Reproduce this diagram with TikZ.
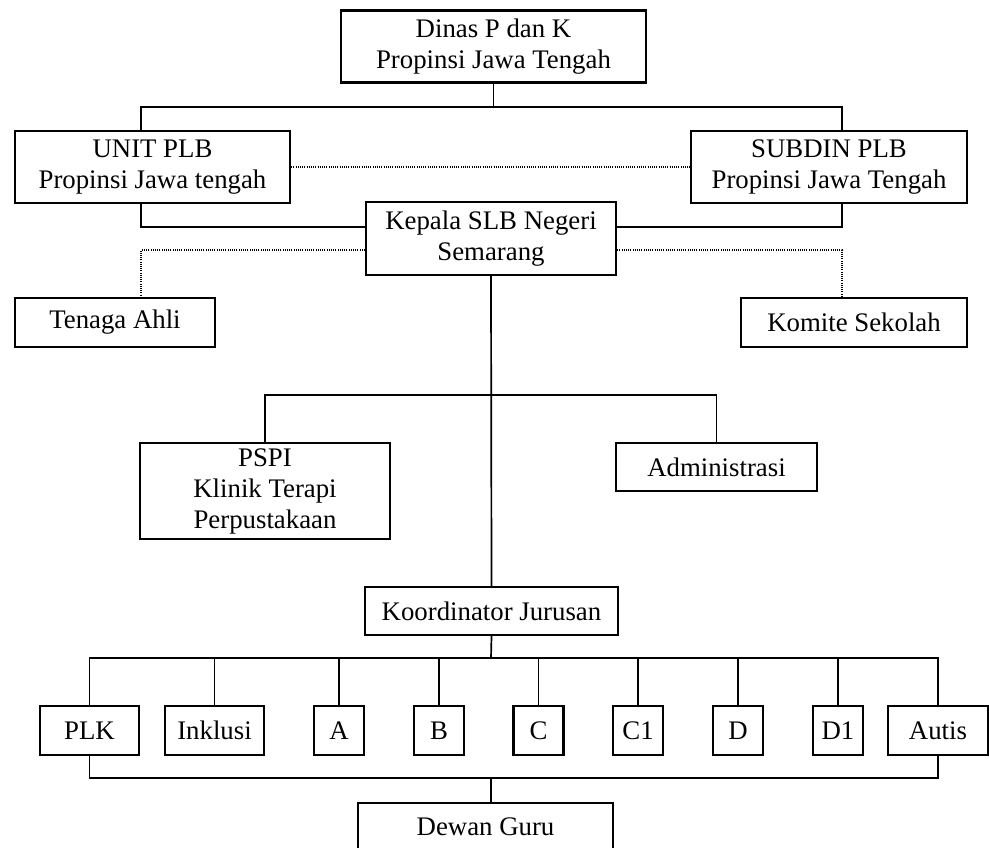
\documentclass[tikz,border=0pt]{standalone}
\usepackage{fontspec}
\setmainfont{Liberation Serif}
\usetikzlibrary{positioning}

\begin{document}
\begin{tikzpicture}[x=0.5pt,y=-0.5pt,
  box/.style={draw,line width=1.1pt,align=center,inner sep=0pt,
    font=\fontsize{13.4}{15.5}\selectfont},
  link/.style={line width=0.85pt},
  dots/.style={line width=0.75pt,dash pattern=on 0.5pt off 0.6pt}]
\useasboundingbox (0,0) rectangle (989,847);
\clip (0,0) rectangle (989,847);
% boxes
\node[box,minimum width=152.5pt,minimum height=36pt] (dinas) at (493.5,46.5) {Dinas P dan K\\Propinsi Jawa Tengah};
\node[box,minimum width=137.5pt,minimum height=36pt] (unit) at (152.5,167) {UNIT PLB\\Propinsi Jawa tengah};
\node[box,minimum width=138pt,minimum height=36pt] (subdin) at (829,167) {SUBDIN PLB\\Propinsi Jawa Tengah};
\node[box,minimum width=125pt,minimum height=36.5pt] (kepala) at (491,238.5) {Kepala SLB Negeri\\Semarang};
\node[box,minimum width=100pt,minimum height=24.5pt] (tenaga) at (115,322.5) {Tenaga Ahli};
\node[box,minimum width=113pt,minimum height=24.5pt] (komite) at (854,322.5) {Komite Sekolah};
\node[box,minimum width=125pt,minimum height=48pt] (pspi) at (265,491) {PSPI\\Klinik Terapi\\Perpustakaan};
\node[box,minimum width=100.5pt,minimum height=24pt] (admin) at (716.5,467) {Administrasi};
\node[box,minimum width=126.5pt,minimum height=24pt] (koord) at (491.5,611) {Koordinator Jurusan};
%
\node[box,minimum width=49.5pt,minimum height=24.5pt] (plk) at (89.5,730.5) {PLK};
\node[box,minimum width=49.5pt,minimum height=24.5pt] (inklusi) at (214.5,730.5) {Inklusi};
\node[box,minimum width=25pt,minimum height=24.5pt] (a) at (339,730.5) {A};
\node[box,minimum width=25pt,minimum height=24.5pt] (b) at (439,730.5) {B};
\node[box,minimum width=25pt,minimum height=24.5pt] (c) at (538.5,730.5) {C};
\node[box,minimum width=25pt,minimum height=24.5pt] (c1) at (638,730.5) {C1};
\node[box,minimum width=25pt,minimum height=24.5pt] (d) at (738,730.5) {D};
\node[box,minimum width=25pt,minimum height=24.5pt] (d1) at (838,730.5) {D1};
\node[box,minimum width=50pt,minimum height=24.5pt] (autis) at (938,730.5) {Autis};
\node[box,minimum width=127.5pt,minimum height=24pt] (dewan) at (485.5,827) {Dewan Guru};
% bend points
\coordinate (ul) at (141,107);
\coordinate (ur) at (842,107);
\coordinate (kl) at (141,227);
\coordinate (kr) at (842,227);
\coordinate (tl) at (141,250);
\coordinate (tr) at (842,250);
\coordinate (mid) at (491,395);
\coordinate (bus) at (491,658);
\coordinate (low) at (491,778);
% solid lines
\draw[link] (dinas.south) -- (dinas.south |- ul);
\draw[link] (unit.north -| ul) -- (ul) -- (ur) -- (subdin.north -| ur);
\draw[link] (unit.south -| kl) -- (kl) -- (kl -| kepala.west);
\draw[link] (subdin.south -| kr) -- (kr) -- (kr -| kepala.east);
\draw[link] (kepala.south) -- (koord.north);
\draw[link] (pspi.north) -- (pspi.north |- mid) -| (admin.north);
\draw[link] (koord.south) -- (bus);
\draw[link] (plk.north) -- (plk.north |- bus) -| (autis.north);
\foreach \n in {inklusi,a,b,c,c1,d,d1}
  \draw[link] (\n.north) -- (\n.north |- bus);
\draw[link] (plk.south) -- (plk.south |- low) -| (autis.south);
\draw[link] (low) -- (low |- dewan.north);
% dotted lines
\draw[dots] (unit.east) -- (subdin.west);
\draw[dots] (tl -| kepala.west) -- (tl) -- (tenaga.north -| tl);
\draw[dots] (tr -| kepala.east) -- (tr) -- (komite.north -| tr);
\end{tikzpicture}
\end{document}
